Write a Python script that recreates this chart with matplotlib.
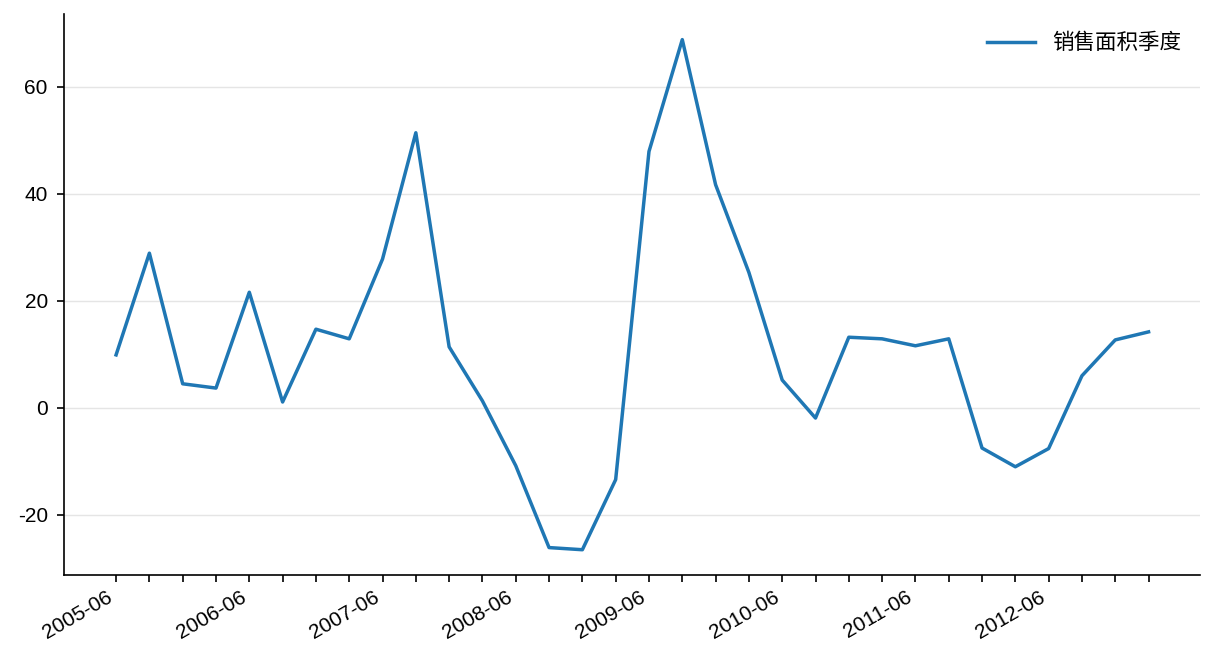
import matplotlib
matplotlib.use("Agg")
import matplotlib.pyplot as plt

plt.rcParams['font.family'] = ['Liberation Sans', 'Noto Sans CJK SC', 'DejaVu Sans']
plt.rcParams['axes.unicode_minus'] = False

# quarterly periods 2005-06 .. 2013-03
periods = []
for yr in range(2005, 2014):
    for m in ["03", "06", "09", "12"]:
        periods.append("%d-%s" % (yr, m))
periods = periods[1:33]

values = [9.9, 28.9, 4.5, 3.7, 21.6, 1.1, 14.7, 12.9, 27.8, 51.4,
          11.4, 1.3, -10.8, -26.1, -26.5, -13.4, 47.9, 68.8, 41.7, 25.3,
          5.2, -1.9, 13.2, 12.9, 11.6, 12.9, -7.5, -11.0, -7.6, 6.0,
          12.7, 14.2]

fig = plt.figure(figsize=(12.16, 6.72), dpi=100)
ax = fig.add_axes([0.053, 0.144, 0.934, 0.835])

x = list(range(len(values)))
ax.plot(x, values, color="#1f77b4", lw=2.5, label="销售面积季度")

ax.set_xticks(x)
ax.set_xticklabels([p if i % 4 == 0 else "" for i, p in enumerate(periods)],
                   rotation=30, ha="right", fontsize=15)
ax.tick_params(axis="y", labelsize=15, length=5, width=1.2, pad=7)
ax.tick_params(axis="x", length=5, width=1.2, pad=4)
ax.set_yticks([-20, 0, 20, 40, 60])
ax.set_xlim(-1.55, 32.55)
ax.grid(axis="y", color="#e5e5e5", lw=1)
ax.set_axisbelow(True)
for s in ["top", "right"]:
    ax.spines[s].set_visible(False)
for s in ["left", "bottom"]:
    ax.spines[s].set_linewidth(1.2)

ax.legend(loc="upper right", frameon=False, fontsize=15.5, handlelength=2.2)

fig.savefig("out.png")
